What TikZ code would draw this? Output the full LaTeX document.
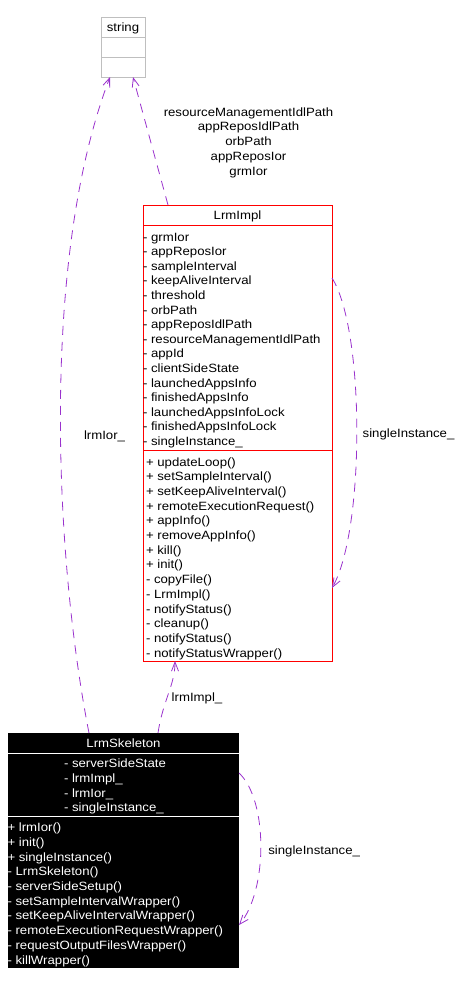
\documentclass[tikz,border=0pt]{standalone}
\usepackage{fontspec}
\setmainfont{Liberation Sans}[FakeStretch=1.1]
\usetikzlibrary{arrows.meta,calc}
\definecolor{usecol}{RGB}{154,50,205}
\definecolor{strgray}{RGB}{191,191,191}
\begin{document}
\begin{tikzpicture}[x=1pt,y=-1pt,
  every node/.style={font=\fontsize{12}{14.7}\selectfont, inner sep=0pt, outer sep=0pt},
  strsec/.style={rectangle, draw=strgray, line width=0.8pt, anchor=north west, minimum width=44pt},
  implsec/.style={rectangle, draw=red, line width=0.8pt, anchor=north west, minimum width=189pt},
  skelsec/.style={rectangle, fill=black, anchor=north west, minimum width=231pt},
  members/.style={anchor=north west, align=left},
  usage/.style={draw=usecol, line width=0.8pt, dash pattern=on 9pt off 7pt, -{Straight Barb[length=9pt,width=7pt]}},
  lbl/.style={anchor=base west}
]
\useasboundingbox (0,0) rectangle (464,985);

% string class
\node[strsec, minimum height=20pt] (strT) at (101,17) {};
\node[strsec, minimum height=20pt] (strA) at (101,37) {};
\node[strsec, minimum height=20pt] (strM) at (101,57) {};
\node (strName) at ($(strT.center)+(0,1.5)$) {string};

% LrmImpl class
\node[implsec, minimum height=20pt] (implT) at (143,205) {};
\node[implsec, minimum height=225pt] (implA) at (143,225) {};
\node[implsec, minimum height=211pt] (implM) at (143,450) {};
\node (implName) at ($(implT.center)+(0,1)$) {LrmImpl};
\node[members, font=\fontsize{12}{14.6}\selectfont] (implAttr) at (143,232.8) {- grmIor\\- appReposIor\\- sampleInterval\\- keepAliveInterval\\- threshold\\- orbPath\\- appReposIdlPath\\- resourceManagementIdlPath\\- appId\\- clientSideState\\- launchedAppsInfo\\- finishedAppsInfo\\- launchedAppsInfoLock\\- finishedAppsInfoLock\\- singleInstance\_};
\node[members] (implMeth) at (146,457.3) {+ updateLoop()\\+ setSampleInterval()\\+ setKeepAliveInterval()\\+ remoteExecutionRequest()\\+ appInfo()\\+ removeAppInfo()\\+ kill()\\+ init()\\- copyFile()\\- LrmImpl()\\- notifyStatus()\\- cleanup()\\- notifyStatus()\\- notifyStatusWrapper()};

% LrmSkeleton class
\node[skelsec, minimum height=20pt] (skelT) at (8,733) {};
\node[skelsec, minimum height=63pt] (skelA) at (8,753) {};
\node[skelsec, minimum height=152pt] (skelM) at (8,816) {};
\draw[white, line width=0.8pt] (skelT.south west) -- (skelT.south east);
\draw[white, line width=0.8pt] (skelA.south west) -- (skelA.south east);
\node[text=white] (skelName) at ($(skelT.center)+(0,0.5)$) {LrmSkeleton};
\node[members, text=white] (skelAttr) at (64,759) {- serverSideState\\- lrmImpl\_\\- lrmIor\_\\- singleInstance\_};
\node[members, text=white] (skelMeth) at (7.5,823) {+ lrmIor()\\+ init()\\+ singleInstance()\\- LrmSkeleton()\\- serverSideSetup()\\- setSampleIntervalWrapper()\\- setKeepAliveIntervalWrapper()\\- remoteExecutionRequestWrapper()\\- requestOutputFilesWrapper()\\- killWrapper()};

% labels
\node[align=center] (lblStr) at (248.5,142.5) {resourceManagementIdlPath\\appReposIdlPath\\orbPath\\appReposIor\\grmIor};
\node[lbl] (lblIor) at (84,439.3) {lrmIor\_};
\node[lbl] (lblImpl) at (171.7,701) {lrmImpl\_};
\node[lbl] (lblSI1) at (362.7,437.8) {singleInstance\_};
\node[lbl] (lblSI2) at (268.3,854.3) {singleInstance\_};

% connectors
\draw[usage] ($(skelT.north west)+(81,0)$) .. controls (55,560) and (40,260) .. ($(strM.south west)+(9,0)$);
\draw[usage] ($(implT.north west)+(25,0)$) -- ($(strM.south west)+(32,0)$);
\draw[usage] ($(skelT.north west)+(150,0)$) .. controls (163,700) and (175,685) .. ($(implM.south west)+(32,0)$);
\draw[usage] ($(implA.north east)+(0,53)$) .. controls (365,330) and (365,530) .. ($(implM.north east)+(0,138)$);
\draw[usage] ($(skelA.north east)+(0,20)$) .. controls (268,800) and (268,890) .. ($(skelM.north east)+(0,109)$);
\end{tikzpicture}
\end{document}
